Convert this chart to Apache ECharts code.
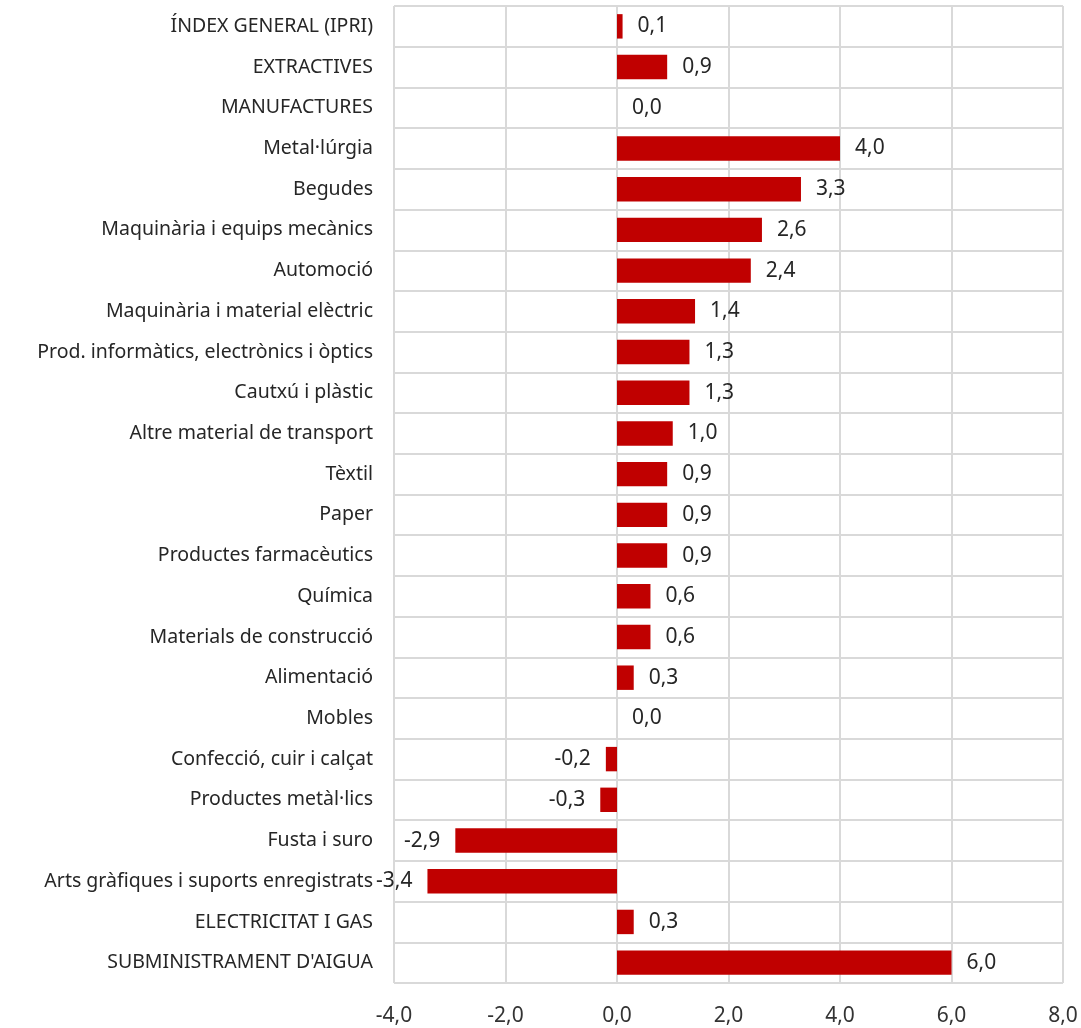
<!DOCTYPE html>
<html>
<head>
<meta charset="utf-8">
<script src="https://cdn.jsdelivr.net/npm/echarts@6/dist/echarts.min.js"></script>
<style>
html,body{margin:0;padding:0;background:#fff;}
#chart{width:1081px;height:1028px;}
</style>
</head>
<body>
<div id="chart"></div>
<script>
const categories = [
  "ÍNDEX GENERAL (IPRI)",
  "EXTRACTIVES",
  "MANUFACTURES",
  "Metal·lúrgia",
  "Begudes",
  "Maquinària i equips mecànics",
  "Automoció",
  "Maquinària i material elèctric",
  "Prod. informàtics, electrònics i òptics",
  "Cautxú i plàstic",
  "Altre material de transport",
  "Tèxtil",
  "Paper",
  "Productes farmacèutics",
  "Química",
  "Materials de construcció",
  "Alimentació",
  "Mobles",
  "Confecció, cuir i calçat",
  "Productes metàl·lics",
  "Fusta i suro",
  "Arts gràfiques i suports enregistrats",
  "ELECTRICITAT I GAS",
  "SUBMINISTRAMENT D'AIGUA"
];
const values = [0.1, 0.9, 0.0, 4.0, 3.3, 2.6, 2.4, 1.4, 1.3, 1.3, 1.0, 0.9, 0.9, 0.9, 0.6, 0.6, 0.3, 0.0, -0.2, -0.3, -2.9, -3.4, 0.3, 6.0];
const axisMin = -4, axisMax = 8, axisStep = 2;

const fmt = v => v.toFixed(1).replace('.', ',');
const FONT = "Noto Sans";
const chart = echarts.init(document.getElementById('chart'));
chart.setOption({
  animation: false,
  textStyle: { fontFamily: FONT },
  grid: { left: 394, right: 18, top: 6, bottom: 45 },
  xAxis: {
    type: 'value', min: axisMin, max: axisMax, interval: axisStep,
    axisLine: { show: false }, axisTick: { show: false },
    splitLine: { show: true, lineStyle: { color: '#d9d9d9', width: 2 } },
    axisLabel: { formatter: fmt, color: '#333333', fontSize: 21, margin: 23, fontFamily: FONT }
  },
  yAxis: {
    type: 'category', data: categories, inverse: true,
    axisLine: { show: false }, axisTick: { show: false },
    splitLine: { show: true, lineStyle: { color: '#d9d9d9', width: 2 } },
    axisLabel: { color: '#262626', fontSize: 19.5, margin: 21, fontFamily: FONT }
  },
  series: [{
    type: 'bar',
    barCategoryGap: '40%',
    itemStyle: { color: '#c00000' },
    data: values.map(v => ({
      value: v,
      label: { position: v < 0 ? 'left' : 'right' }
    })),
    label: {
      show: true, distance: 15, color: '#262626', fontSize: 21, fontFamily: FONT,
      formatter: p => fmt(p.value)
    }
  }]
});
</script>
</body>
</html>
